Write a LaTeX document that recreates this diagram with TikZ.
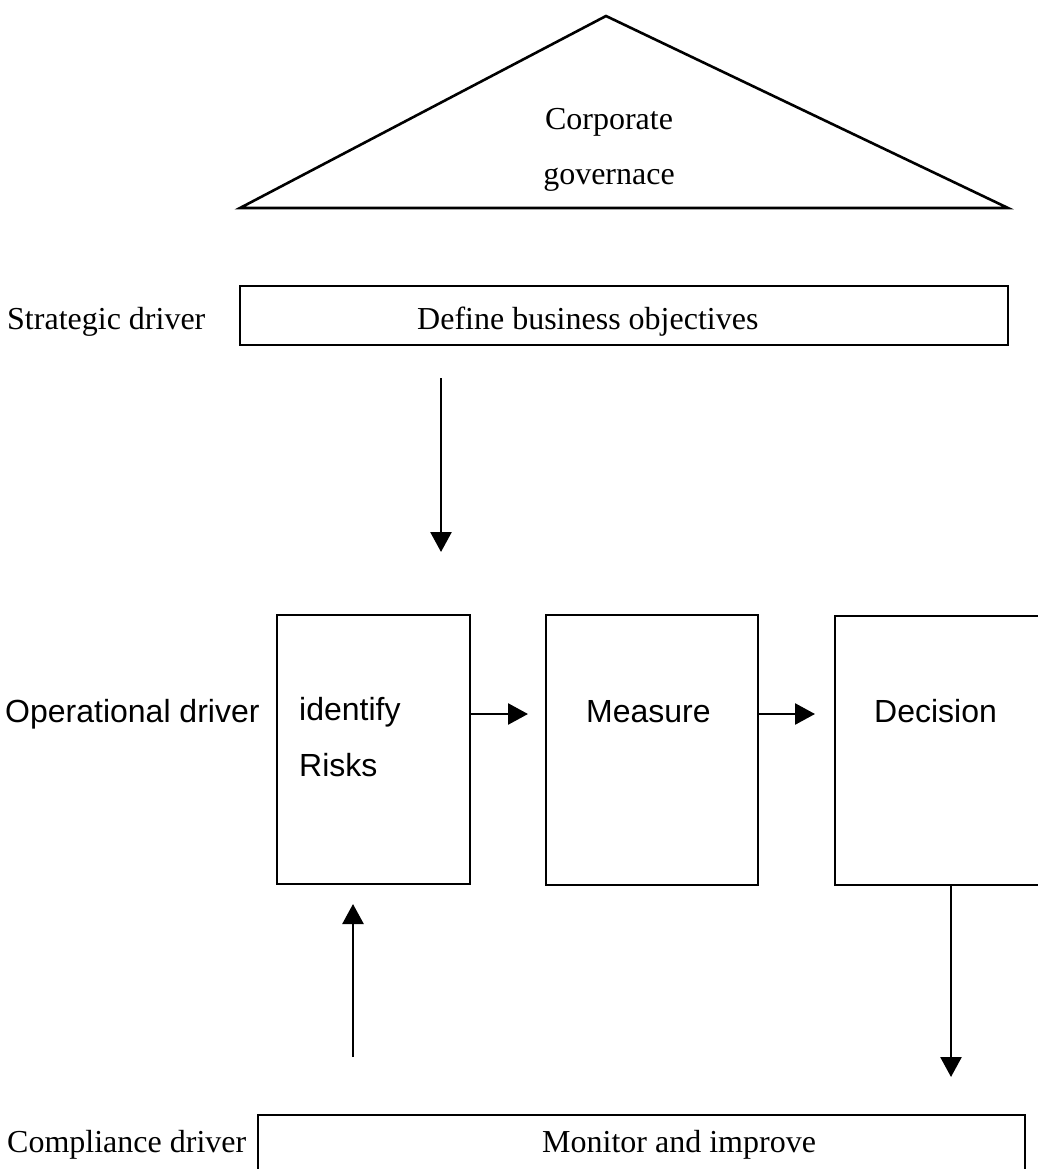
\documentclass[tikz,border=0pt]{standalone}
\usepackage{fontspec}
\setmainfont{Liberation Serif}
\newfontfamily\arialfont{Liberation Sans}
\usetikzlibrary{arrows.meta}

\begin{document}
\begin{tikzpicture}[x=1pt, y=-1pt,
  box/.style={draw, line width=2.5pt, rectangle, inner sep=0pt, outer sep=0pt},
  serif/.style={font=\fontsize{32}{38}\selectfont, inner sep=0pt},
  sans/.style={font=\arialfont\fontsize{32}{38}\selectfont, inner sep=0pt},
  flow/.style={-{Triangle[length=20pt,width=21pt]}, line width=2.6pt}]
\useasboundingbox (0,0) rectangle (1037,1169);
\fill[white] (0,0) rectangle (1037,1169);

% governance roof
\coordinate (apex) at (606,16);
\coordinate (roofL) at (240,208);
\coordinate (roofR) at (1008,208);
\draw[line width=2.6pt, line join=miter] (roofL) -- (apex) -- (roofR) -- cycle;
\node[serif, anchor=base] (corp) at (609,130) {Corporate};
\node[serif, anchor=base] (gov) at (609,185) {governace};

% driver labels
\node[serif, anchor=base west] (lblS) at (7,329) {Strategic driver};
\node[sans, anchor=base west] (lblO) at (5,722) {Operational driver};
\node[serif, anchor=base west] (lblC) at (7,1152) {Compliance driver};

% strategic level
\node[box, minimum width=768pt, minimum height=59pt] (obj) at (624,315.5) {};
\node[serif, anchor=base west] (objtxt) at (417,329) {Define business objectives};

% operational level
\node[box, minimum width=193pt, minimum height=269pt] (idr) at (373.5,749.5) {};
\node[box, minimum width=212pt, minimum height=270pt] (meas) at (652,750) {};
\node[box, minimum width=225pt, minimum height=269pt] (dec) at (947.5,750.5) {};
\node[sans, anchor=base west] (idrtxt1) at (299,720) {identify};
\node[sans, anchor=base west] (idrtxt2) at (299,776) {Risks};
\node[sans, anchor=base west] (meastxt) at (586,722) {Measure};
\node[sans, anchor=base west] (dectxt) at (874,722) {Decision};

% compliance level
\node[box, minimum width=767pt, minimum height=85pt] (mon) at (641.5,1157.5) {};
\node[serif, anchor=base west] (montxt) at (542,1152) {Monitor and improve};

% connectors
\coordinate (objOut) at (441,378);
\coordinate (objTip) at (441,552);
\draw[flow] (objOut) -- (objTip);

\coordinate (r1) at (528,714);
\draw[flow] (idr.east |- r1) -- (r1);
\coordinate (r2) at (815,714);
\draw[flow] (meas.east |- r2) -- (r2);

\coordinate (d1) at (951,1077);
\draw[flow] (dec.south -| d1) -- (d1);

\coordinate (u0) at (353,1057);
\coordinate (u1) at (353,904);
\draw[flow] (u0) -- (u1);
\end{tikzpicture}
\end{document}
